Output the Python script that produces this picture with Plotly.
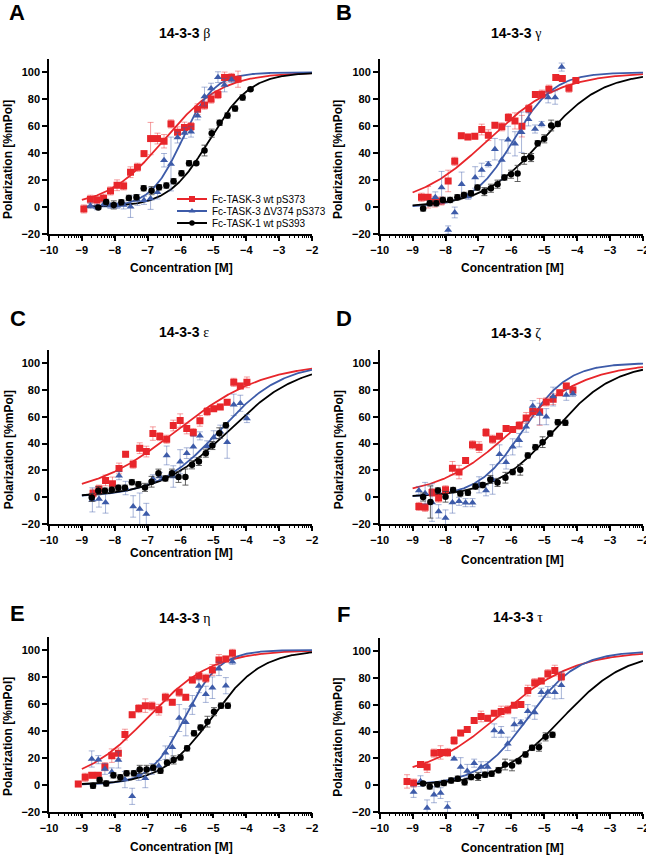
import numpy as np
import plotly.graph_objects as go

W, H = 646, 857

# ---------------- data (log10 concentration, %mPol, SEM) ----------------
# Panel A  14-3-3 beta
A_red_x = [-8.94,-8.74,-8.54,-8.34,-8.13,-7.93,-7.73,-7.52,-7.31,-7.11,-6.91,-6.70,-6.50,-6.29,-6.09,-5.88,-5.68,-5.48,-5.27,-5.07,-4.86,-4.66,-4.45,-4.25]
A_red_y = [-1.4,5.8,5.3,6.5,12,16.2,15.7,25.9,29.6,39.7,50.9,50.9,48.9,61.8,55.6,59.1,59.8,72.7,75.7,80.2,83.6,96.3,96.3,95.0]
A_red_e = [3,3,3,3,3,4,3,4,3,2,12,4,5,3,4,4,3,4,3,3,3,4,3,6]
A_blue_x = [-8.74,-8.54,-8.34,-8.13,-7.93,-7.73,-7.52,-7.31,-7.11,-6.91,-6.70,-6.50,-6.29,-6.09,-5.88,-5.68,-5.48,-5.27,-5.07,-4.86,-4.66,-4.45]
A_blue_y = [1,0,2,1,1,1.6,0.3,5.3,5,6.3,11,34.8,32,51.6,55,56,67.8,82.1,88,96.5,90.6,94.5]
A_blue_e = [2,2,2,2,2,3,8,4,3,8,5,5,20,4,4,4,3,7,4,4,5,2]
A_black_x = [-8.50,-8.26,-8.03,-7.80,-7.57,-7.34,-7.12,-6.88,-6.65,-6.43,-6.21,-5.97,-5.74,-5.52,-5.27,-5.05,-4.81,-4.57,-4.34,-4.11,-3.87]
A_black_y = [-0.4,3.8,1.6,3.5,6.8,7.3,14,12.2,14.7,16,19.2,25.1,32.6,32.6,42,54.9,62.6,68,73.2,81.4,87.6]
A_black_e = [1,2,3,2,2,2,2,3,2,2,2,2,2,1,4,3,2,2,2,2,1]

# Panel B  14-3-3 gamma
B_red_x = [-8.73,-8.53,-8.33,-8.13,-7.92,-7.72,-7.52,-7.32,-7.11,-6.90,-6.70,-6.50,-6.29,-6.09,-5.89,-5.68,-5.47,-5.27,-5.07,-4.86,-4.65,-4.45,-4.25,-4.04]
B_red_y = [7.3,7.3,4,4.5,19.4,34,52.9,52.1,52.6,57.6,53.4,60.8,59.6,66.5,64,60.1,73,83.6,83.9,87.6,96.3,95.5,88.3,94]
B_red_e = [3,8,4,3,8,3,2,2,2,4,4,2,3,3,6,8,3,2,3,3,2,2,3,2]
B_blue_x = [-8.31,-8.12,-7.92,-7.72,-7.51,-7.31,-7.10,-6.90,-6.70,-6.50,-6.29,-6.10,-5.89,-5.69,-5.48,-5.28,-5.08,-4.88,-4.67,-4.47]
B_blue_y = [7.3,14.5,-17,-4,17,7.8,22,27.6,31.8,43,35,50,47,55.6,65.3,58,61.6,81.4,81.4,104]
B_blue_e = [4,12,3,4,9,2,8,5,2,8,15,10,9,15,5,3,2,4,5,3]
B_black_x = [-8.68,-8.48,-8.28,-8.08,-7.86,-7.64,-7.44,-7.23,-7.03,-6.82,-6.62,-6.42,-6.21,-6.01,-5.81,-5.61,-5.40,-5.20,-5.00,-4.79,-4.59]
B_black_y = [-1,2.8,2.8,5.3,5.3,7.3,9,10.2,14.5,11.5,14,17,22,24.4,25,35.8,36.8,47.4,50.7,60.6,61.8]
B_black_e = [2,2,2,2,2,2,2,2,2,3,3,3,2,3,6,4,3,2,3,4,2]

# Panel C  14-3-3 epsilon
C_red_x = [-8.66,-8.48,-8.28,-8.07,-7.87,-7.67,-7.44,-7.24,-7.04,-6.84,-6.63,-6.42,-6.22,-6.01,-5.81,-5.61,-5.41,-5.19,-4.99,-4.79,-4.58,-4.38,-4.18,-3.98]
C_red_y = [3,6,12.5,10,21.4,32,24.6,36.5,34,47.4,45.2,43.2,53.4,57.1,51.2,48.2,56.9,63.8,66,67.3,70.7,85.6,82.9,85.6]
C_red_e = [3,3,4,5,4,2,3,4,4,5,3,3,4,5,4,3,4,3,2,2,2,3,2,4]
C_blue_x = [-8.68,-8.48,-8.28,-7.87,-7.67,-7.44,-7.24,-7.04,-6.84,-6.63,-6.42,-6.22,-6.01,-5.81,-5.61,-5.41,-5.19,-4.99,-4.79,-4.58,-4.38,-4.18,-3.98]
C_blue_y = [-2,-1.4,-3.9,16,6.8,-6.9,-8.9,-12.6,13.7,15.4,31.1,15.4,26.4,32.8,37.5,45.7,38,44.5,48.7,41,68.8,70,58.6]
C_blue_e = [9,6,8,3,5,8,12,8,3,3,7,8,9,4,8,3,4,5,5,12,8,6,3]
C_black_x = [-8.70,-8.50,-8.30,-8.09,-7.89,-7.69,-7.48,-7.28,-7.08,-6.88,-6.67,-6.46,-6.26,-6.06,-5.85,-5.65,-5.44,-5.23,-5.03,-4.82,-4.62]
C_black_y = [-0.2,4.8,4.8,5.5,7,7,11.2,9.7,7.3,11.5,17.9,14,17.9,15,15,24.1,26.6,32.8,38.5,47.7,53.6]
C_black_e = [3,3,2,2,2,2,2,2,3,4,3,2,3,4,6,3,3,3,3,4,2]

# Panel D  14-3-3 zeta
D_red_x = [-8.81,-8.62,-8.41,-8.21,-8.00,-7.79,-7.59,-7.39,-7.18,-6.98,-6.77,-6.57,-6.36,-6.16,-5.96,-5.76,-5.55,-5.35,-5.14,-4.94,-4.73,-4.53,-4.33,-4.13]
D_red_y = [-6.9,-7.6,3.5,-0.7,5.5,21.6,18.7,27.3,39,37.3,48.2,43.2,45.5,51.2,50.4,53.4,59.1,63.8,63.6,71,73,77.9,82.9,79.9]
D_red_e = [3,3,3,3,3,5,5,2,3,4,3,3,2,2,2,3,4,4,10,3,4,2,2,2]
D_blue_x = [-8.81,-8.62,-8.41,-8.21,-8.00,-7.79,-7.59,-7.39,-7.18,-6.98,-6.77,-6.57,-6.36,-6.16,-5.96,-5.76,-5.55,-5.35,-5.14,-4.94,-4.73,-4.33,-4.13]
D_blue_y = [5,3,-4,-10.6,-15.5,-3.9,-3.1,-4.1,-4.1,9.2,5,13.2,32,26,37.5,42.5,52.4,68,62,60,75,76.2,77]
D_blue_e = [3,8,14,5,6,8,3,3,3,6,4,11,7,5,6,5,4,4,8,6,7,4,2]
D_black_x = [-8.68,-8.46,-8.23,-8.00,-7.77,-7.55,-7.32,-7.09,-6.87,-6.64,-6.42,-6.18,-5.96,-5.73,-5.50,-5.27,-5.05,-4.82,-4.59,-4.36]
D_black_y = [0.1,-3.6,5,0.3,5.3,2.8,3.3,8,9,13.2,11,14.5,18.7,20.4,31.1,37.3,41,47.4,55.9,55.4]
D_black_e = [3,12,2,4,2,2,2,2,2,3,3,4,2,4,2,2,4,2,2,2]

# Panel E  14-3-3 eta
E_red_x = [-9.11,-8.90,-8.70,-8.50,-8.30,-8.09,-7.89,-7.69,-7.47,-7.27,-7.07,-6.87,-6.66,-6.46,-6.25,-6.04,-5.84,-5.64,-5.44,-5.23,-5.03,-4.83,-4.62,-4.42]
E_red_y = [0.5,5.5,7,7,13.4,21.6,23.3,37.2,52,56.5,58.7,58.4,55.7,64.9,61.2,68.6,64.9,77.7,80.7,79,85.2,92.6,93.3,97.5]
E_red_e = [2,3,2,2,3,5,4,4,2,3,5,3,4,3,2,3,2,2,3,3,4,4,2,3]
E_blue_x = [-8.70,-8.50,-8.30,-8.09,-7.89,-7.69,-7.47,-7.27,-7.07,-6.87,-6.66,-6.46,-6.25,-6.04,-5.84,-5.64,-5.44,-5.23,-5.03,-4.83,-4.62,-4.42]
E_blue_y = [19.1,18.6,11.7,9.5,18.4,3.8,-8.6,7.2,4.8,11.7,14,23.8,27.8,49.5,46.3,59.2,73.3,67.1,72,86,73.5,91.3]
E_blue_e = [6,3,4,3,6,6,6,4,7,4,4,5,8,10,10,7,5,6,8,5,6,2]
E_black_x = [-8.66,-8.46,-8.26,-8.04,-7.83,-7.64,-7.42,-7.24,-7.03,-6.83,-6.61,-6.41,-6.21,-6.00,-5.80,-5.59,-5.39,-5.18,-4.98,-4.77,-4.56]
E_black_y = [-0.7,3.5,1,7,5.5,8.5,8.5,11.4,11.4,12.7,10.4,16.4,18.4,20.3,27,38.2,42.4,46.8,54.2,58.7,58.7]
E_black_e = [2,2,2,2,2,2,2,3,3,2,2,2,3,2,2,2,2,4,3,2,2]

# Panel F  14-3-3 tau
F_red_x = [-9.17,-8.97,-8.76,-8.56,-8.35,-8.15,-7.94,-7.74,-7.54,-7.34,-7.13,-6.92,-6.72,-6.52,-6.31,-6.11,-5.91,-5.71,-5.50,-5.29,-5.09,-4.89,-4.68,-4.48]
F_red_y = [2.8,1.6,15.4,13.5,23.9,24.4,24.4,33.3,38.8,41.5,48.2,51.2,49.9,53.6,54.9,56.1,59.6,60.1,70.5,76.4,77.7,83.1,85.4,80.9]
F_red_e = [5,3,2,4,3,5,3,3,2,2,2,4,2,2,4,3,2,2,4,3,2,3,4,3]
F_blue_x = [-8.97,-8.76,-8.56,-8.35,-8.15,-7.94,-7.74,-7.54,-7.34,-7.13,-6.92,-6.72,-6.52,-6.31,-6.11,-5.91,-5.71,-5.50,-5.29,-5.09,-4.89,-4.68,-4.48]
F_blue_y = [-5.1,3,-17,-7.1,-5.9,-16.3,19.7,13.5,10.5,16.4,13.5,13.5,40.7,39.7,30.8,45.2,46.7,55.1,54.1,69.3,69.5,69.3,74.5]
F_blue_e = [4,4,6,6,4,4,1,7,5,3,4,4,5,4,5,5,2,5,5,3,4,5,10]
F_black_x = [-8.68,-8.48,-8.25,-8.05,-7.83,-7.63,-7.42,-7.22,-7.01,-6.80,-6.60,-6.39,-6.19,-5.98,-5.78,-5.57,-5.37,-5.16,-4.96,-4.75]
F_black_y = [1.3,-0.9,0.6,1.6,3.5,4.8,2.1,6,6.5,7.8,8.5,11.2,15.4,14.7,17.9,22.9,27.8,28.3,36,37.5]
F_black_e = [1,2,2,2,2,2,2,2,3,2,2,2,4,4,2,2,2,3,3,2]

# fitted dose-response parameters: [bottom, top, logEC50, hill]
A_red_fit, A_blue_fit, A_black_fit = [0,100,-6.5,0.5], [0,100,-5.95,0.9], [0,100,-5.12,0.7]
B_red_fit, B_blue_fit, B_black_fit = [0,100,-6.71,0.4], [0,100,-5.93,0.71], [0,100,-5.05,0.48]
C_red_fit, C_blue_fit, C_black_fit = [0,100,-6.1,0.33], [0,100,-4.8,0.456], [0,100,-4.52,0.41]
D_red_fit, D_blue_fit, D_black_fit = [0,100,-5.95,0.38], [0,100,-5.65,0.64], [0,100,-4.7,0.474]
E_red_fit, E_blue_fit, E_black_fit = [0,100,-7.0,0.44], [0,100,-5.87,0.82], [0,100,-5.05,0.57]
F_red_fit, F_blue_fit, F_black_fit = [5,100,-6.35,0.38], [0,100,-5.5,0.58], [0,100,-4.45,0.45]
FIT_RANGE = [-9, -2]

panel_letters = ["A", "B", "C", "D", "E", "F"]
panel_greek = ["β", "γ", "ε", "ζ", "η", "τ"]
series_names = ["Fc-TASK-3 wt pS373", "Fc-TASK-3 ΔV374 pS373", "Fc-TASK-1 wt pS393"]
x_ticks = [-10, -9, -8, -7, -6, -5, -4, -3, -2]
y_ticks = [-20, 0, 20, 40, 60, 80, 100]

# ---------------- styling ----------------
RED, BLUE, BLACK = "#E8262B", "#3D5BA9", "#000000"
ERR = ["rgba(232,38,43,0.45)", "rgba(61,91,169,0.45)", "rgba(60,60,60,0.8)"]
COLORS = [RED, BLUE, BLACK]
SYMBOLS = ["square", "triangle-up", "circle"]
SIZES = [7, 7, 6.5]
FONT = "Liberation Sans, Arial, sans-serif"

G = globals()
panels = []
for L in panel_letters:
    ser = []
    for s in ["red", "blue", "black"]:
        ser.append((G[f"{L}_{s}_x"], G[f"{L}_{s}_y"], G[f"{L}_{s}_e"], G[f"{L}_{s}_fit"]))
    panels.append(ser)

# pixel geometry of each plot area: left, right, top (y=110), bottom (y=-20)
geom = [(49, 312, 59, 234), (379.7, 643, 59, 234),
        (49, 312, 349.6, 524), (379.7, 643, 349.6, 524),
        (49, 312, 636.5, 811.7), (379.7, 643, 637.6, 812)]
letter_pos = [(17, 13), (344, 13), (18, 318), (344, 318), (17, 613), (343, 614)]
title_pos = [(185, 33), (516, 33), (184, 332), (516, 333), (185, 618), (518, 617)]
xtitle_pos = [(181, 268), (512, 268), (181, 553), (512, 560), (181, 847), (512, 848)]
ytitle_x = [8.5, 338.5, 8.5, 338.5, 8, 338]

minor_vals = [n + np.log10(k) for n in range(-10, -2) for k in range(2, 10)]


def logistic(x, p):
    b, t, c, h = p
    return b + (t - b) / (1 + 10 ** ((c - x) * h))


def ann(text, px, py, size, **kw):
    return dict(text=text, x=px / W, y=1 - py / H, xref="paper", yref="paper",
                xanchor="center", yanchor="middle", showarrow=False,
                font=dict(family=FONT, size=size, color="black"), **kw)


fig = go.Figure()
layout = {}
annotations = []
xfit = np.linspace(FIT_RANGE[0], FIT_RANGE[1], 300)

for i, ser in enumerate(panels):
    sfx = "" if i == 0 else str(i + 1)
    xa, ya = "x" + sfx, "y" + sfx
    l, r, t, b = geom[i]
    for j, (x, y, e, fit) in enumerate(ser):
        fig.add_trace(go.Scatter(x=xfit, y=logistic(xfit, fit), mode="lines",
                                 line=dict(color=COLORS[j], width=1.8),
                                 xaxis=xa, yaxis=ya, showlegend=False, hoverinfo="skip"))
    for j, (x, y, e, fit) in enumerate(ser):
        fig.add_trace(go.Scatter(x=x, y=y, mode="markers",
                                 marker=dict(symbol=SYMBOLS[j], size=SIZES[j], color=COLORS[j],
                                             line=dict(width=0)),
                                 error_y=dict(type="data", array=e, visible=True, color=ERR[j],
                                              thickness=1, width=3),
                                 xaxis=xa, yaxis=ya, showlegend=False))
    axis_common = dict(showline=True, linecolor="black", linewidth=1.5, ticks="outside",
                       ticklen=5, tickwidth=1.5, tickcolor="black", showgrid=False,
                       zeroline=False, automargin=False, ticklabeloverflow="allow",
                       tickfont=dict(family=FONT, size=11, color="black", weight="bold"))
    layout["xaxis" + sfx] = dict(axis_common, domain=[l / W, r / W], anchor=ya,
                                 range=[-10, -2], tickmode="array", tickvals=x_ticks,
                                 minor=dict(tickmode="array", tickvals=minor_vals, ticks="outside",
                                            ticklen=2.5, tickwidth=1, tickcolor="black"))
    layout["yaxis" + sfx] = dict(axis_common, domain=[1 - b / H, 1 - t / H], anchor=xa,
                                 range=[-20, 110], tickmode="array", tickvals=y_ticks)
    lx, ly = letter_pos[i]
    annotations.append(ann("<b>" + panel_letters[i] + "</b>", lx, ly, 22))
    tx, ty = title_pos[i]
    annotations.append(ann("<b>14-3-3</b> <span style='font-family:Liberation Serif'>"
                           + panel_greek[i] + "</span>", tx, ty, 14))
    cx, cy = xtitle_pos[i]
    annotations.append(ann("<b>Concentration [M]</b>", cx, cy, 12))
    annotations.append(ann("<b>Polarization [%mPol]</b>", ytitle_x[i], (t + b) / 2 + 13, 12,
                           textangle=-90))

# legend entries (panel A)
legend_ids = ["legend", "legend2", "legend3"]
legend_rows = [199, 211, 223]
for j in range(3):
    fig.add_trace(go.Scatter(x=[None], y=[None], mode="lines+markers", name=series_names[j],
                             line=dict(color=COLORS[j], width=1.8),
                             marker=dict(symbol=SYMBOLS[j], size=SIZES[j] - 1, color=COLORS[j]),
                             legend=legend_ids[j], showlegend=True))
    layout[legend_ids[j]] = dict(x=172 / W, y=1 - legend_rows[j] / H, xanchor="left",
                                 yanchor="middle", bgcolor="rgba(0,0,0,0)", borderwidth=0,
                                 font=dict(family=FONT, size=10, color="black"))

fig.update_layout(**layout)
fig.update_layout(width=W, height=H, margin=dict(l=0, r=0, t=0, b=0),
                  paper_bgcolor="white", plot_bgcolor="white", annotations=annotations)

fig.write_html("out.html", config={"displayModeBar": False},
               post_script="document.body.style.margin='0px';document.body.style.overflow='hidden';")
